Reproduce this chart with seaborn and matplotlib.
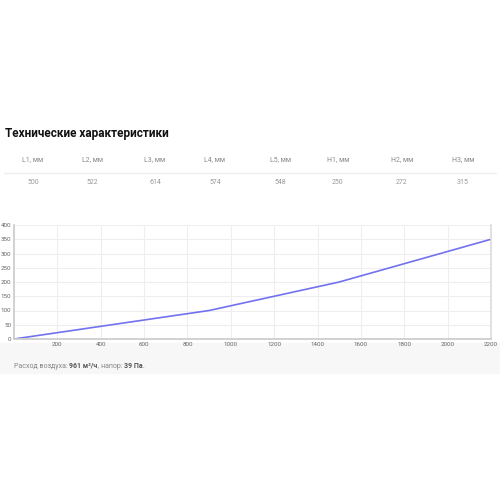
import matplotlib
matplotlib.use('Agg')
import matplotlib.pyplot as plt
import seaborn as sns
import pandas as pd

# table data
headers = ['L1, мм', 'L2, мм', 'L3, мм', 'L4, мм', 'L5, мм', 'H1, мм', 'H2, мм', 'H3, мм']
values = ['500', '522', '614', '574', '548', '250', '272', '315']
col_x = [33, 92, 155, 215, 280, 338, 402, 463]

# curve data
flow = [0, 900, 1500, 2200]
pressure = [0, 100, 200, 350]

# footer pieces (text, bold)
footer = [('Расход воздуха: ', False), ('961 м³/ч', True), (', напор: ', False), ('39 Па', True), ('.', False)]

sns.set_theme(style='whitegrid')
plt.rcParams['font.family'] = ['Roboto', 'DejaVu Sans']

fig = plt.figure(figsize=(5, 5), dpi=100)
W, H = 500, 500

fig.text(5 / W, 1 - 133 / H, 'Технические характеристики', fontsize=8.5,
         fontweight='bold', va='center', ha='left', color='#111111')
for x, h, v in zip(col_x, headers, values):
    fig.text(x / W, 1 - 160 / H, h, fontsize=5, color='#888888', ha='center', va='center')
    fig.text(x / W, 1 - 183 / H, v, fontsize=5, color='#999999', ha='center', va='center')
fig.add_artist(plt.Line2D([4 / W, 496 / W], [1 - 173 / H, 1 - 173 / H], color='#eeeeee', lw=1))

# light grey band under the chart
fig.add_artist(plt.Rectangle((0, 1 - 373 / H), 1, 30 / H, color='#f7f7f7', zorder=0))
renderer = fig.canvas.get_renderer()
x0 = 14
for txt, bold in footer:
    t = fig.text(x0 / W, 1 - 366 / H, txt, fontsize=5, va='center',
                 color='#555555' if bold else '#888888',
                 fontweight='bold' if bold else 'normal')
    x0 += t.get_window_extent(renderer).width

ax = fig.add_axes([14 / W, 1 - 339 / H, 477 / W, 114 / H])
df = pd.DataFrame({'flow': flow, 'pressure': pressure})
sns.lineplot(data=df, x='flow', y='pressure', ax=ax, color='#7272f0', lw=1.2)
ax.set_xlim(0, 2200)
ax.set_ylim(0, 400)
ax.set_xticks(range(200, 2201, 200))
ax.set_yticks(range(0, 401, 50))
ax.tick_params(labelsize=4.5, colors='#666666', pad=2, length=0)
ax.set_xlabel('')
ax.set_ylabel('')
ax.grid(color='#eeeeee', lw=0.8)
for s in ax.spines.values():
    s.set_visible(False)
ax.spines['bottom'].set_visible(True)
ax.spines['bottom'].set_color('#cccccc')
ax.spines['left'].set_visible(True)
ax.spines['left'].set_color('#cccccc')
ax.spines['right'].set_visible(True)
ax.spines['right'].set_color('#dddddd')

fig.savefig('out.png', dpi=100)
